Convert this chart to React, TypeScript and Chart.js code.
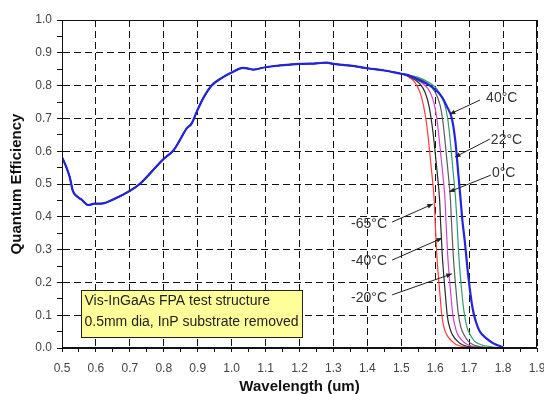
import React, { useEffect, useRef } from 'react';
import { Chart, registerables } from 'chart.js';

Chart.register(...registerables);

// Shared part of the curves (all temperatures overlap here)
const commonWl = [0.5, 0.513, 0.523, 0.532, 0.542, 0.557, 0.577, 0.596, 0.621, 0.651, 0.7, 0.729, 0.8, 0.828, 0.847, 0.867, 0.882, 0.897, 0.916, 0.941, 0.97, 1.0, 1.034, 1.049, 1.064, 1.1, 1.2, 1.25, 1.28, 1.3, 1.35, 1.4, 1.45, 1.5];
const commonQe = [0.582, 0.551, 0.52, 0.479, 0.464, 0.453, 0.436, 0.44, 0.441, 0.453, 0.479, 0.5, 0.577, 0.602, 0.633, 0.669, 0.684, 0.72, 0.761, 0.8, 0.823, 0.84, 0.854, 0.852, 0.849, 0.856, 0.866, 0.868, 0.87, 0.866, 0.861, 0.853, 0.846, 0.836];

// Cut-off tails per temperature
const tailWlM65 = [1.52, 1.54, 1.555, 1.566, 1.575, 1.58, 1.59, 1.597, 1.6, 1.605, 1.613, 1.62, 1.627, 1.634, 1.65, 1.663, 1.7, 1.75];
const tailQeM65 = [0.828, 0.81, 0.78, 0.737, 0.68, 0.635, 0.533, 0.45, 0.38, 0.28, 0.175, 0.095, 0.058, 0.04, 0.02, 0.01, 0.002, 0.0];
const tailWlM40 = [1.53, 1.555, 1.57, 1.582, 1.59, 1.596, 1.606, 1.613, 1.616, 1.621, 1.629, 1.636, 1.644, 1.651, 1.666, 1.68, 1.72, 1.77];
const tailQeM40 = [0.824, 0.805, 0.78, 0.737, 0.685, 0.635, 0.533, 0.45, 0.38, 0.28, 0.175, 0.095, 0.058, 0.04, 0.02, 0.01, 0.002, 0.0];
const tailWlM20 = [1.54, 1.565, 1.585, 1.598, 1.606, 1.612, 1.622, 1.629, 1.632, 1.637, 1.645, 1.652, 1.66, 1.667, 1.682, 1.696, 1.74, 1.78];
const tailQeM20 = [0.822, 0.805, 0.78, 0.74, 0.69, 0.635, 0.533, 0.45, 0.38, 0.28, 0.175, 0.1, 0.06, 0.04, 0.02, 0.01, 0.002, 0.0];
const tailWl0 = [1.55, 1.575, 1.6, 1.614, 1.622, 1.628, 1.638, 1.645, 1.648, 1.653, 1.661, 1.668, 1.676, 1.684, 1.698, 1.712, 1.75, 1.79];
const tailQe0 = [0.822, 0.808, 0.78, 0.742, 0.695, 0.64, 0.535, 0.45, 0.385, 0.285, 0.18, 0.105, 0.062, 0.042, 0.02, 0.01, 0.002, 0.0];
const tailWl22 = [1.55, 1.58, 1.605, 1.625, 1.636, 1.643, 1.653, 1.66, 1.664, 1.669, 1.677, 1.685, 1.693, 1.701, 1.715, 1.73, 1.77, 1.8];
const tailQe22 = [0.825, 0.81, 0.79, 0.752, 0.705, 0.645, 0.535, 0.455, 0.39, 0.29, 0.185, 0.11, 0.066, 0.045, 0.022, 0.012, 0.003, 0.0];
const tailWl40 = [1.52, 1.55, 1.58, 1.6, 1.62, 1.634, 1.649, 1.659, 1.668, 1.675, 1.68, 1.687, 1.697, 1.71, 1.72, 1.731, 1.75, 1.77, 1.8];
const tailQe40 = [0.832, 0.818, 0.803, 0.788, 0.765, 0.737, 0.7, 0.634, 0.532, 0.45, 0.39, 0.327, 0.224, 0.122, 0.08, 0.051, 0.03, 0.015, 0.002];

const seriesNames = ['-65°C', '-40°C', '-20°C', '0°C', '22°C', '40°C'];
const seriesColors = ['#ff3a3a', '#2a2a2a', '#cc44cc', '#5a5a5a', '#2e9e72', '#2424dc'];
const tailWls = [tailWlM65, tailWlM40, tailWlM20, tailWl0, tailWl22, tailWl40];
const tailQes = [tailQeM65, tailQeM40, tailQeM20, tailQe0, tailQe22, tailQe40];

// Temperature callouts
const calloutTexts = ['40°C', '22°C', '0°C', '-65°C', '-40°C', '-20°C'];
const calloutWl = [1.75, 1.764, 1.767, 1.458, 1.458, 1.458];
const calloutQe = [0.762, 0.634, 0.534, 0.378, 0.265, 0.152];
const calloutAlign = ['left', 'left', 'left', 'right', 'right', 'right'];
const arrowFromWl = [1.732, 1.761, 1.764, 1.473, 1.473, 1.473];
const arrowFromQe = [0.756, 0.637, 0.527, 0.384, 0.268, 0.162];
const arrowToWl = [1.643, 1.658, 1.641, 1.593, 1.62, 1.649];
const arrowToQe = [0.713, 0.582, 0.476, 0.439, 0.335, 0.226];

// Note box
const noteLines = ['Vis-InGaAs FPA test structure', '0.5mm dia, InP substrate removed'];
const noteAnchorWl = 0.556;
const noteAnchorQe = 0.177;

const xTitle = 'Wavelength (um)';
const yTitle = 'Quantum Efficiency';

const FONT = '"Liberation Sans", Arial, Helvetica, sans-serif';

const isMajor = (v: number) => Math.abs(v * 10 - Math.round(v * 10)) < 1e-6;

const overlayPlugin = {
  id: 'overlay',
  afterDatasetsDraw(chart: any) {
    const { ctx, chartArea, scales } = chart;
    const xs = scales.x;
    const ys = scales.y;
    ctx.save();
    // frame
    ctx.strokeStyle = '#111';
    ctx.lineWidth = 1;
    ctx.setLineDash([]);
    const l = Math.round(chartArea.left) + 0.5;
    const r = Math.round(chartArea.right) - 0.5;
    const t = Math.round(chartArea.top) + 0.5;
    const b = Math.round(chartArea.bottom) - 0.5;
    ctx.strokeRect(l, t, r - l, b - t);

    // callouts
    ctx.font = `14px ${FONT}`;
    ctx.textBaseline = 'middle';
    for (let i = 0; i < calloutTexts.length; i++) {
      const x1 = xs.getPixelForValue(arrowFromWl[i]);
      const y1 = ys.getPixelForValue(arrowFromQe[i]);
      const x2 = xs.getPixelForValue(arrowToWl[i]);
      const y2 = ys.getPixelForValue(arrowToQe[i]);
      ctx.strokeStyle = '#222';
      ctx.fillStyle = '#222';
      ctx.lineWidth = 1;
      ctx.beginPath();
      ctx.moveTo(x1, y1);
      ctx.lineTo(x2, y2);
      ctx.stroke();
      const ang = Math.atan2(y2 - y1, x2 - x1);
      const len = 6;
      ctx.beginPath();
      ctx.moveTo(x2, y2);
      ctx.lineTo(x2 - len * Math.cos(ang - 0.4), y2 - len * Math.sin(ang - 0.4));
      ctx.lineTo(x2 - len * Math.cos(ang + 0.4), y2 - len * Math.sin(ang + 0.4));
      ctx.closePath();
      ctx.fill();
      ctx.fillStyle = '#333';
      ctx.textAlign = calloutAlign[i] as CanvasTextAlign;
      ctx.fillText(calloutTexts[i], xs.getPixelForValue(calloutWl[i]), ys.getPixelForValue(calloutQe[i]));
    }

    // note box
    ctx.font = `14px ${FONT}`;
    const w = Math.max(...noteLines.map((s) => ctx.measureText(s).width)) + 7;
    const lineH = 21;
    const h = 47;
    const bx = Math.round(xs.getPixelForValue(noteAnchorWl)) + 0.5;
    const by = Math.round(ys.getPixelForValue(noteAnchorQe)) + 0.5;
    ctx.fillStyle = '#ffff99';
    ctx.fillRect(bx, by, w, h);
    ctx.strokeStyle = '#222';
    ctx.strokeRect(bx, by, w, h);
    ctx.fillStyle = '#222';
    ctx.textAlign = 'left';
    noteLines.forEach((s, i) => ctx.fillText(s, bx + 3, by + 11 + i * lineH));
    ctx.restore();
  },
};

export default function App() {
  const ref = useRef<HTMLCanvasElement>(null);
  useEffect(() => {
    if (!ref.current) return;
    const datasets = seriesNames.map((name, i) => {
      const wl = commonWl.concat(tailWls[i]);
      const qe = commonQe.concat(tailQes[i]);
      return {
        label: name,
        data: wl.map((x, k) => ({ x, y: qe[k] })),
        borderColor: seriesColors[i],
        backgroundColor: seriesColors[i],
        borderWidth: i === 5 ? 2.2 : 1.2,
        pointRadius: 0,
        fill: false,
        cubicInterpolationMode: 'monotone' as const,
        order: 5 - i,
      };
    });
    const tickFont = { family: FONT, size: 12 };
    const chart = new Chart(ref.current, {
      type: 'line',
      data: { datasets },
      plugins: [overlayPlugin],
      options: {
        responsive: false,
        animation: false,
        events: [],
        layout: { padding: { top: 20, right: 7, left: 0, bottom: 0 } },
        plugins: { legend: { display: false }, tooltip: { enabled: false } },
        scales: {
          x: {
            type: 'linear',
            min: 0.5,
            max: 1.9,
            afterFit: (s: any) => {
              s.height = 46;
              s.paddingRight = 7;
            },
            ticks: {
              stepSize: 0.05,
              autoSkip: false,
              maxRotation: 0,
              padding: 9,
              color: '#444',
              font: tickFont,
              callback: (v: any) => (isMajor(Number(v)) ? Number(v).toFixed(1) : ''),
            },
            grid: {
              color: (c: any) => (c.tick && isMajor(c.tick.value) ? '#111' : 'rgba(0,0,0,0)'),
              tickColor: '#111',
              tickLength: 4,
              lineWidth: 1,
            },
            border: { display: true, color: '#111', width: 1, dash: [7, 4] },
            title: {
              display: true,
              text: xTitle,
              color: '#111',
              font: { family: FONT, size: 15, weight: 'bold', lineHeight: 1 },
              padding: { top: 0, bottom: 0 },
            },
          },
          y: {
            type: 'linear',
            min: 0,
            max: 1,
            afterFit: (s: any) => {
              s.width = 62;
            },
            ticks: {
              stepSize: 0.05,
              autoSkip: false,
              padding: 5,
              color: '#444',
              font: tickFont,
              callback: (v: any) => (isMajor(Number(v)) ? Number(v).toFixed(1) : ''),
            },
            grid: {
              color: (c: any) => (c.tick && isMajor(c.tick.value) ? '#111' : 'rgba(0,0,0,0)'),
              tickColor: '#111',
              tickLength: 5,
              lineWidth: 1,
            },
            border: { display: true, color: '#111', width: 1, dash: [7, 4] },
            title: {
              display: true,
              text: yTitle,
              color: '#111',
              font: { family: FONT, size: 15, weight: 'bold' },
              padding: { top: 8, bottom: 0 },
            },
          },
        },
      },
    } as any);
    return () => chart.destroy();
  }, []);
  return (
    <div style={{ position: 'absolute', left: 0, top: 0, width: 544, height: 394, background: '#fff' }}>
      <canvas ref={ref} width={544} height={394} style={{ display: 'block' }} />
    </div>
  );
}
